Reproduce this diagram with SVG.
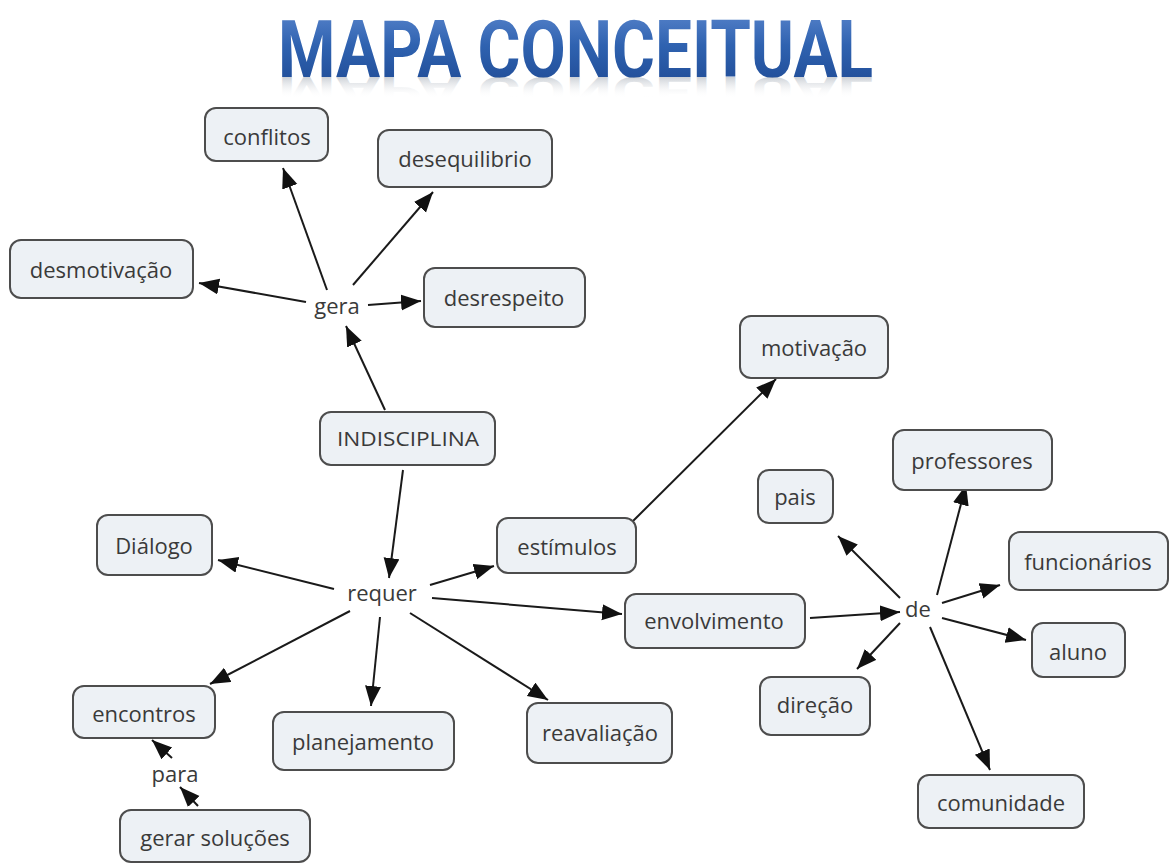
<svg xmlns="http://www.w3.org/2000/svg" width="1176" height="864" viewBox="0 0 1176 864">
<defs>
<linearGradient id="tg" x1="0" y1="0" x2="0" y2="1">
<stop offset="0" stop-color="#5f8ad0"/>
<stop offset="0.45" stop-color="#2f62b0"/>
<stop offset="1" stop-color="#1c4790"/>
</linearGradient>
<linearGradient id="rg" x1="0" y1="0" x2="0" y2="1">
<stop offset="0" stop-color="#ffffff" stop-opacity="0"/>
<stop offset="0.35" stop-color="#ffffff" stop-opacity="0"/>
<stop offset="1" stop-color="#7f8a99" stop-opacity="0.85"/>
</linearGradient>
<marker id="ah" markerUnits="userSpaceOnUse" markerWidth="22" markerHeight="18" refX="20" refY="8" orient="auto">
<path d="M0,0 L20,8 L0,16 z" fill="#111"/>
</marker>
</defs>
<style>
.n rect{fill:#edf1f5;stroke:#4d4d4d;stroke-width:2}
.n text,.lbl{font-family:"Open Sans","DejaVu Sans",sans-serif;font-size:22px;fill:#3a3a3a;text-anchor:middle;dominant-baseline:central}
.c line{stroke:#1a1a1a;stroke-width:2;marker-end:url(#ah)}
.title{font-family:Roboto,"Liberation Sans",sans-serif;font-weight:bold;font-size:80px}
</style>
<rect width="1176" height="864" fill="#ffffff"/>
<g id="title">
<text class="title" x="278" y="77" textLength="595" lengthAdjust="spacingAndGlyphs" fill="url(#tg)">MAPA CONCEITUAL</text>
<text class="title" x="278" y="77" textLength="595" lengthAdjust="spacingAndGlyphs" fill="url(#rg)" transform="translate(0,115.5) scale(1,-0.5)">MAPA CONCEITUAL</text>
</g>
<g id="connectors" class="c">
<line x1="385" y1="410" x2="346" y2="326"/>
<line x1="327" y1="290" x2="283" y2="168"/>
<line x1="353" y1="285" x2="433" y2="192"/>
<line x1="306" y1="302" x2="199" y2="283"/>
<line x1="368" y1="305" x2="421" y2="301"/>
<line x1="403" y1="470" x2="389" y2="578"/>
<line x1="334" y1="589" x2="218" y2="560"/>
<line x1="430" y1="585" x2="494" y2="566"/>
<line x1="432" y1="598" x2="622" y2="614"/>
<line x1="350" y1="611" x2="210" y2="684"/>
<line x1="380" y1="617" x2="371" y2="706"/>
<line x1="410" y1="613" x2="548" y2="700"/>
<line x1="632" y1="522" x2="776" y2="379"/>
<line x1="810" y1="618" x2="900" y2="612"/>
<line x1="900" y1="598" x2="838" y2="536"/>
<line x1="937" y1="595" x2="966" y2="485"/>
<line x1="942" y1="603" x2="1000" y2="585"/>
<line x1="942" y1="618" x2="1026" y2="640"/>
<line x1="900" y1="623" x2="857" y2="669"/>
<line x1="930" y1="627" x2="990" y2="770"/>
<line x1="172" y1="758" x2="152" y2="740"/>
<line x1="198" y1="806" x2="180" y2="787"/>
</g>
<g id="n-conflitos" class="n"><rect x="205" y="108" width="123" height="53" rx="11"/><text x="267" y="136">conflitos</text></g>
<g id="n-desequilibrio" class="n"><rect x="378" y="130" width="174" height="57" rx="11"/><text x="465" y="158">desequilibrio</text></g>
<g id="n-desmotivacao" class="n"><rect x="10" y="240" width="183" height="58" rx="11"/><text x="101" y="269">desmotivação</text></g>
<g id="n-desrespeito" class="n"><rect x="424" y="268" width="161" height="59" rx="11"/><text x="504" y="297">desrespeito</text></g>
<text id="l-gera" class="lbl" x="337" y="305">gera</text>
<g id="n-motivacao" class="n"><rect x="740" y="316" width="148" height="62" rx="11"/><text x="814" y="347">motivação</text></g>
<g id="n-indisciplina" class="n"><rect x="320" y="412" width="175" height="53" rx="11"/><text x="408" y="438" textLength="142" lengthAdjust="spacingAndGlyphs" style="font-size:20px">INDISCIPLINA</text></g>
<g id="n-professores" class="n"><rect x="893" y="430" width="159" height="60" rx="11"/><text x="972" y="460">professores</text></g>
<g id="n-pais" class="n"><rect x="758" y="470" width="75" height="53" rx="11"/><text x="795" y="496">pais</text></g>
<g id="n-funcionarios" class="n"><rect x="1009" y="532" width="159" height="58" rx="11"/><text x="1088" y="561">funcionários</text></g>
<g id="n-dialogo" class="n"><rect x="97" y="515" width="115" height="60" rx="11"/><text x="154" y="545">Diálogo</text></g>
<g id="n-estimulos" class="n"><rect x="497" y="518" width="139" height="55" rx="11"/><text x="567" y="546">estímulos</text></g>
<text id="l-requer" class="lbl" x="382" y="592">requer</text>
<g id="n-envolvimento" class="n"><rect x="625" y="594" width="180" height="54" rx="11"/><text x="714" y="620">envolvimento</text></g>
<text id="l-de" class="lbl" x="918" y="608">de</text>
<g id="n-aluno" class="n"><rect x="1032" y="623" width="93" height="54" rx="11"/><text x="1078" y="651">aluno</text></g>
<g id="n-direcao" class="n"><rect x="760" y="677" width="110" height="58" rx="11"/><text x="815" y="704">direção</text></g>
<g id="n-encontros" class="n"><rect x="73" y="686" width="142" height="52" rx="11"/><text x="144" y="713">encontros</text></g>
<g id="n-planejamento" class="n"><rect x="273" y="712" width="181" height="58" rx="11"/><text x="363" y="741">planejamento</text></g>
<g id="n-reavaliacao" class="n"><rect x="527" y="703" width="145" height="60" rx="11"/><text x="600" y="732">reavaliação</text></g>
<text id="l-para" class="lbl" x="175" y="773">para</text>
<g id="n-gerar" class="n"><rect x="120" y="810" width="190" height="52" rx="11"/><text x="215" y="837">gerar soluções</text></g>
<g id="n-comunidade" class="n"><rect x="918" y="775" width="166" height="53" rx="11"/><text x="1001" y="802">comunidade</text></g>
</svg>
